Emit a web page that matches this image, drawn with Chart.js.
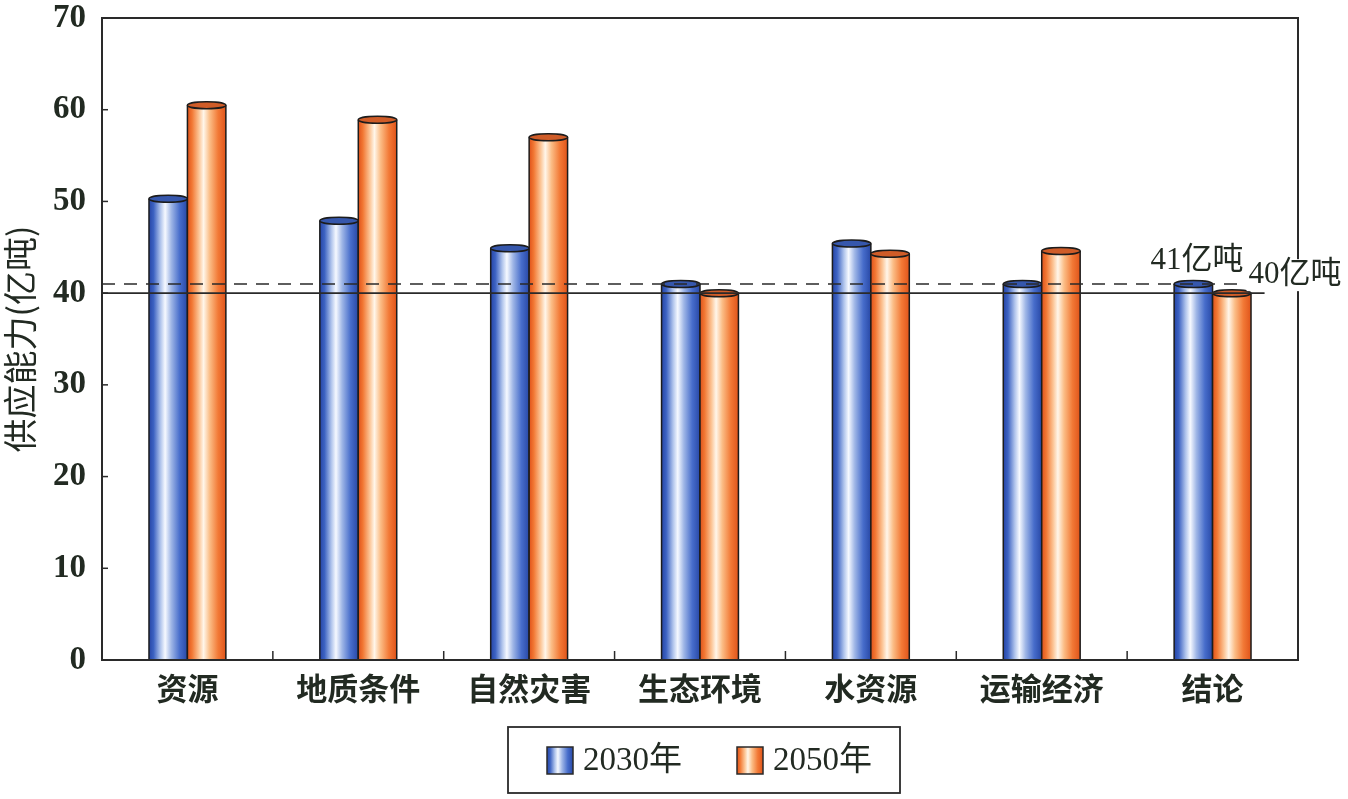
<!DOCTYPE html>
<html>
<head>
<meta charset="utf-8">
<script src="https://cdn.jsdelivr.net/npm/chart.js@4.4.0/dist/chart.umd.min.js"></script>
<style>html,body{margin:0;padding:0;background:#fff}</style>
</head>
<body>
<canvas id="supply" width="1348" height="799"></canvas>
<script>
//data
const categories = ['资源', '地质条件', '自然灾害', '生态环境', '水资源', '运输经济', '结论'];
const seriesNames = ['2030年', '2050年'];
const values2030 = [50.3, 47.9, 44.9, 41, 45.4, 41, 41];
const values2050 = [60.5, 58.9, 57.0, 40, 44.3, 44.6, 40];
const yTicks = [0, 10, 20, 30, 40, 50, 60, 70];
const refValues = [41, 40];
const refLabels = ['41亿吨', '40亿吨'];

const ink = '#222a22';
const serif = '"Liberation Serif", "Noto Sans CJK SC", serif';

// cylinder shading, left -> right
const palettes = [
    {stops: [[0, '#2645a6'], [0.12, '#3c62c2'], [0.3, '#b0c4ec'], [0.42, '#f6f9ff'], [0.58, '#9fb6e6'], [0.8, '#476dcb'], [1, '#2848a6']], cap: '#3657ac'},
    {stops: [[0, '#df521a'], [0.12, '#f27834'], [0.3, '#fcc596'], [0.42, '#fff6ea'], [0.58, '#fbbd86'], [0.8, '#f27936'], [1, '#e0541a']], cap: '#cf5c28'}
];

//plugins
const cylinders = {
    id: 'cylinders',
    afterDatasetsDraw(chart) {
        const ctx = chart.ctx;
        chart.data.datasets.forEach((ds, di) => {
            const pal = palettes[di];
            chart.getDatasetMeta(di).data.forEach(bar => {
                const {x, y, base, width} = bar.getProps(['x', 'y', 'base', 'width'], true);
                const l = x - width / 2, r = x + width / 2;
                const g = ctx.createLinearGradient(l, 0, r, 0);
                pal.stops.forEach(s => g.addColorStop(s[0], s[1]));
                ctx.save();
                ctx.fillStyle = g;
                ctx.fillRect(l, y, width, base - y);
                ctx.strokeStyle = '#1c1c1c';
                ctx.lineWidth = 1.5;
                ctx.beginPath();
                ctx.moveTo(l, base); ctx.lineTo(l, y);
                ctx.moveTo(r, y); ctx.lineTo(r, base);
                ctx.stroke();
                ctx.beginPath();
                ctx.ellipse(x, y, width / 2, 3.5, 0, 0, Math.PI * 2);
                ctx.fillStyle = pal.cap;
                ctx.fill();
                ctx.stroke();
                ctx.restore();
            });
        });
    }
};

const frame = {
    id: 'frame',
    afterDatasetsDraw(chart) {
        const {ctx, chartArea: a, scales: {x, y}} = chart;
        ctx.save();
        ctx.strokeStyle = '#2a2a2a';
        // reference lines
        ctx.lineWidth = 1.6;
        const ends = [x.getPixelForValue(6) + 30, x.getPixelForValue(6) + 52];
        refValues.forEach((v, i) => {
            ctx.setLineDash(i === 0 ? [13, 9] : []);
            ctx.beginPath();
            ctx.moveTo(a.left, y.getPixelForValue(v));
            ctx.lineTo(ends[i], y.getPixelForValue(v));
            ctx.stroke();
        });
        ctx.setLineDash([]);
        // box
        ctx.lineWidth = 2;
        ctx.strokeRect(a.left, a.top, a.right - a.left, a.bottom - a.top);
        // inward ticks
        ctx.lineWidth = 1.5;
        yTicks.forEach(v => {
            const py = y.getPixelForValue(v);
            ctx.beginPath(); ctx.moveTo(a.left, py); ctx.lineTo(a.left + 6, py); ctx.stroke();
        });
        for (let i = 1; i < categories.length; i++) {
            const px = (x.getPixelForValue(i - 1) + x.getPixelForValue(i)) / 2;
            ctx.beginPath(); ctx.moveTo(px, a.bottom); ctx.lineTo(px, a.bottom - 9); ctx.stroke();
        }
        // reference labels
        ctx.font = '31px ' + serif;
        ctx.fillStyle = ink;
        ctx.textBaseline = 'middle';
        ctx.fillText(refLabels[0], x.getPixelForValue(6) - 62, y.getPixelForValue(refValues[0]) - 23);
        const lx = x.getPixelForValue(6) + 36;
        const ly = y.getPixelForValue(refValues[1]) - 18;
        const w = ctx.measureText(refLabels[1]).width;
        ctx.fillStyle = '#fff';
        ctx.fillRect(lx - 2, ly - 16, w + 4, 32);
        ctx.fillStyle = ink;
        ctx.fillText(refLabels[1], lx, ly);
        ctx.restore();
    },
    afterDraw(chart) {
        // legend
        const ctx = chart.ctx;
        ctx.save();
        ctx.strokeStyle = '#2a2a2a';
        ctx.lineWidth = 1.8;
        ctx.strokeRect(508, 727, 392, 66);
        const boxX = [547, 737];
        ctx.font = '33px ' + serif;
        ctx.textBaseline = 'middle';
        seriesNames.forEach((name, i) => {
            const bx = boxX[i], by = 747, bw = 26, bh = 27;
            const g = ctx.createLinearGradient(bx, 0, bx + bw, 0);
            palettes[i].stops.forEach(s => g.addColorStop(s[0], s[1]));
            ctx.fillStyle = g;
            ctx.fillRect(bx, by, bw, bh);
            ctx.lineWidth = 1.5;
            ctx.strokeRect(bx, by, bw, bh);
            ctx.fillStyle = ink;
            ctx.fillText(name, bx + 36, by + bh / 2 + 1);
        });
        ctx.restore();
    }
};

//setup
const data = {
    labels: categories,
    datasets: [
        {label: seriesNames[0], data: values2030, backgroundColor: '#4a70cc', borderWidth: 0},
        {label: seriesNames[1], data: values2050, backgroundColor: '#f27b3a', borderWidth: 0}
    ]
};

//options
const options = {
    responsive: false,
    animation: false,
    layout: {padding: {top: 18, right: 50, left: 0, bottom: 0}},
    categoryPercentage: 0.45,
    barPercentage: 1.0,
    plugins: {
        legend: {display: false},
        tooltip: {enabled: false}
    },
    scales: {
        x: {
            grid: {display: false},
            border: {display: false},
            ticks: {
                color: ink,
                padding: 2,
                font: {family: '"Noto Sans CJK SC"', size: 31, weight: 'bold'}
            },
            afterFit: s => { s.height = 139; s.paddingLeft = 0; s.paddingRight = 0; }
        },
        y: {
            min: 0,
            max: 70,
            afterBuildTicks: s => { s.ticks = yTicks.map(v => ({value: v})); },
            grid: {display: false},
            border: {display: false},
            ticks: {
                color: ink,
                padding: 8,
                font: {family: '"Liberation Serif"', size: 33, weight: 'bold'}
            },
            title: {
                display: true,
                text: '供应能力(亿吨)',
                color: ink,
                padding: {top: 0, bottom: 0},
                font: {family: '"Noto Sans CJK SC"', size: 34}
            },
            afterFit: s => { s.width = 102; s.paddingTop = 0; s.paddingBottom = 0; }
        }
    }
};

//config
const config = {
    type: 'bar',
    data: data,
    options,
    plugins: [cylinders, frame]
};

//render init
const chart = new Chart(document.getElementById('supply'), config);
</script>
</body>
</html>
